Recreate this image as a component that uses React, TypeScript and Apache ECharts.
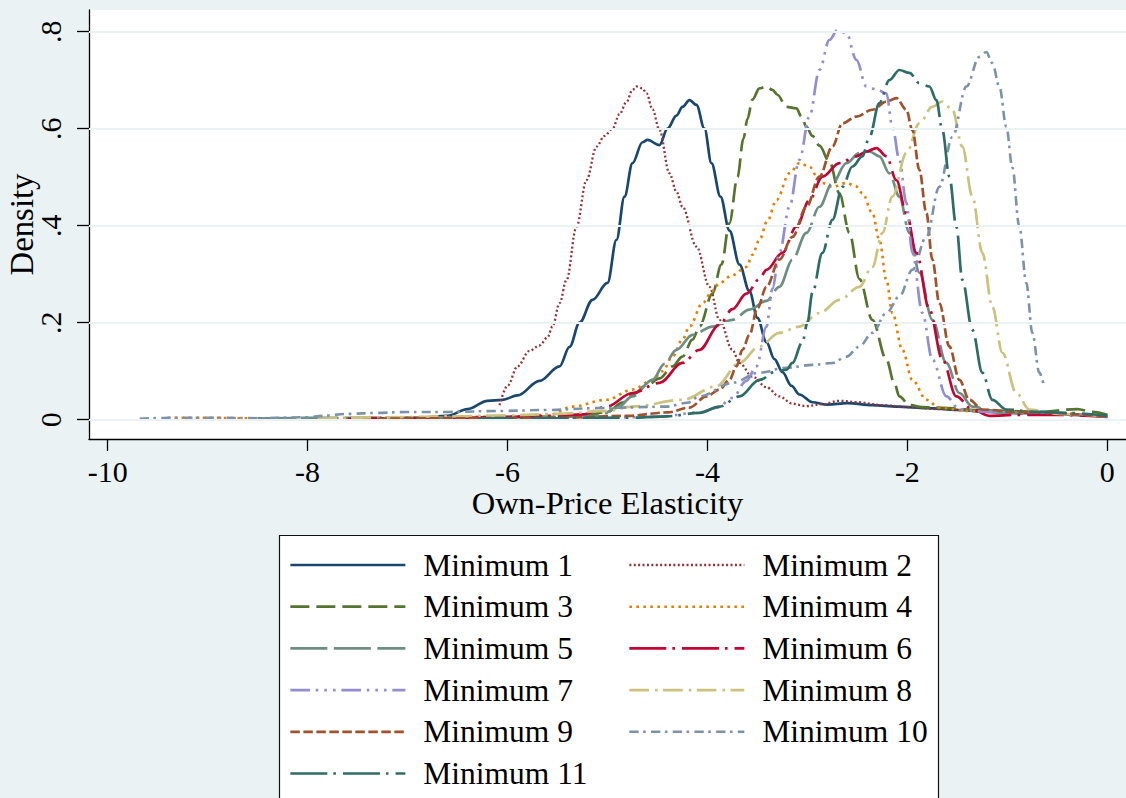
import React, { useEffect, useRef } from "react";
import * as echarts from "echarts";

// Axis ticks and visible ranges
const xTicks = [-10, -8, -6, -4, -2, 0];
const yTicks = [0, 0.2, 0.4, 0.6, 0.8];
const xRange = [-10.187, 0.187];
const yRange = [-0.0398, 0.8447];

// Kernel density estimates of the own-price elasticity, one per minimum
const minimum1: [number, number][] = [
  [-6.9, 0.002], [-6.6, 0.008], [-6.4, 0.022], [-6.2, 0.039], [-6.05, 0.041], [-5.9, 0.05],
  [-5.68, 0.08], [-5.48, 0.11], [-5.38, 0.15], [-5.28, 0.2], [-5.15, 0.247], [-5.0, 0.282],
  [-4.91, 0.371], [-4.83, 0.46], [-4.75, 0.529], [-4.65, 0.572], [-4.6, 0.577], [-4.48, 0.566],
  [-4.4, 0.6], [-4.31, 0.627], [-4.25, 0.645], [-4.18, 0.659], [-4.11, 0.649], [-4.03, 0.6],
  [-3.96, 0.529], [-3.87, 0.46], [-3.78, 0.39], [-3.68, 0.32], [-3.58, 0.265], [-3.5, 0.21],
  [-3.41, 0.16], [-3.33, 0.125], [-3.25, 0.098], [-3.16, 0.07], [-3.08, 0.052], [-2.95, 0.036],
  [-2.8, 0.031], [-2.6, 0.034], [-2.35, 0.03], [-2.1, 0.027], [-1.8, 0.024], [-1.5, 0.02],
  [-1.2, 0.016], [-0.9, 0.014], [-0.6, 0.012], [-0.3, 0.01], [0, 0.007],
];
const minimum2: [number, number][] = [
  [-6.08, 0.03], [-6.0, 0.07], [-5.9, 0.11], [-5.78, 0.142], [-5.68, 0.153], [-5.6, 0.17],
  [-5.55, 0.192], [-5.48, 0.24], [-5.41, 0.288], [-5.31, 0.398], [-5.21, 0.494], [-5.11, 0.563],
  [-5.03, 0.585], [-4.95, 0.6], [-4.88, 0.63], [-4.81, 0.655], [-4.75, 0.68], [-4.71, 0.687],
  [-4.65, 0.683], [-4.61, 0.673], [-4.55, 0.64], [-4.48, 0.597], [-4.38, 0.508], [-4.31, 0.47],
  [-4.25, 0.439], [-4.11, 0.357], [-3.98, 0.274], [-3.88, 0.206], [-3.75, 0.144], [-3.68, 0.117],
  [-3.55, 0.089], [-3.41, 0.067], [-3.28, 0.048], [-3.15, 0.033], [-3.01, 0.028], [-2.85, 0.032],
  [-2.68, 0.039], [-2.5, 0.036], [-2.25, 0.03], [-2.0, 0.026], [-1.7, 0.022], [-1.4, 0.02],
  [-1.1, 0.016], [-0.8, 0.014], [-0.5, 0.012], [-0.2, 0.009], [0, 0.007],
];
const minimum3: [number, number][] = [
  [-6.8, 0.002], [-6.2, 0.004], [-5.6, 0.006], [-5.2, 0.01], [-5.0, 0.016], [-4.85, 0.035],
  [-4.75, 0.052], [-4.6, 0.072], [-4.48, 0.085], [-4.35, 0.11], [-4.25, 0.13], [-4.15, 0.165],
  [-4.08, 0.192], [-3.95, 0.26], [-3.86, 0.32], [-3.78, 0.405], [-3.7, 0.5], [-3.64, 0.58],
  [-3.6, 0.62], [-3.55, 0.66], [-3.48, 0.683], [-3.41, 0.687], [-3.35, 0.68], [-3.3, 0.67],
  [-3.21, 0.645], [-3.11, 0.642], [-3.06, 0.625], [-3.01, 0.604], [-2.95, 0.585], [-2.88, 0.565],
  [-2.78, 0.532], [-2.68, 0.467], [-2.58, 0.385], [-2.48, 0.29], [-2.35, 0.206], [-2.21, 0.124],
  [-2.13, 0.075], [-2.08, 0.048], [-1.98, 0.03], [-1.85, 0.026], [-1.6, 0.024], [-1.3, 0.02],
  [-1.0, 0.018], [-0.7, 0.016], [-0.3, 0.022], [-0.15, 0.016], [0, 0.01],
];
const minimum4: [number, number][] = [
  [-9.4, 0.004], [-9.0, 0.004], [-8.6, 0.003], [-8.2, 0.002], [-7.8, 0.003], [-7.3, 0.004],
  [-6.8, 0.005], [-6.3, 0.006], [-5.9, 0.007], [-5.58, 0.01], [-5.35, 0.027], [-5.01, 0.041],
  [-4.75, 0.062], [-4.55, 0.082], [-4.45, 0.1], [-4.35, 0.13], [-4.25, 0.165], [-4.18, 0.192],
  [-4.05, 0.24], [-3.95, 0.265], [-3.88, 0.282], [-3.75, 0.298], [-3.61, 0.315], [-3.55, 0.34],
  [-3.48, 0.371], [-3.4, 0.41], [-3.31, 0.453], [-3.18, 0.508], [-3.08, 0.529], [-2.98, 0.522],
  [-2.9, 0.5], [-2.85, 0.488], [-2.75, 0.48], [-2.61, 0.488], [-2.52, 0.482], [-2.45, 0.467],
  [-2.35, 0.426], [-2.28, 0.371], [-2.21, 0.288], [-2.15, 0.22], [-2.05, 0.144], [-1.95, 0.082],
  [-1.81, 0.041], [-1.68, 0.025], [-1.4, 0.018], [-1.0, 0.015], [-0.6, 0.012], [-0.3, 0.01],
  [0, 0.007],
];
const minimum5: [number, number][] = [
  [-8.5, 0.003], [-7.5, 0.004], [-6.5, 0.005], [-5.5, 0.006], [-5.08, 0.008], [-4.9, 0.025],
  [-4.75, 0.048], [-4.55, 0.082], [-4.43, 0.115], [-4.31, 0.144], [-4.15, 0.175], [-3.95, 0.192],
  [-3.75, 0.206], [-3.58, 0.227], [-3.41, 0.245], [-3.28, 0.274], [-3.15, 0.33], [-3.01, 0.385],
  [-2.88, 0.439], [-2.75, 0.488], [-2.61, 0.529], [-2.48, 0.55], [-2.38, 0.553], [-2.28, 0.543],
  [-2.18, 0.508], [-2.08, 0.46], [-1.98, 0.385], [-1.88, 0.303], [-1.75, 0.206], [-1.61, 0.117],
  [-1.48, 0.055], [-1.35, 0.027], [-1.08, 0.014], [-0.7, 0.012], [-0.3, 0.01], [0, 0.007],
];
const minimum6: [number, number][] = [
  [-7.6, 0.002], [-7.0, 0.003], [-6.5, 0.004], [-6.0, 0.006], [-5.5, 0.008], [-5.25, 0.011],
  [-5.01, 0.027], [-4.75, 0.055], [-4.48, 0.076], [-4.25, 0.117], [-4.08, 0.144], [-3.88, 0.196],
  [-3.75, 0.228], [-3.61, 0.26], [-3.48, 0.29], [-3.41, 0.309], [-3.25, 0.344], [-3.11, 0.398],
  [-2.98, 0.453], [-2.85, 0.501], [-2.68, 0.529], [-2.51, 0.543], [-2.41, 0.553], [-2.31, 0.56],
  [-2.21, 0.543], [-2.11, 0.494], [-2.01, 0.426], [-1.91, 0.344], [-1.78, 0.227], [-1.65, 0.124],
  [-1.51, 0.048], [-1.35, 0.021], [-1.18, 0.008], [-0.9, 0.01], [-0.5, 0.01], [0, 0.006],
];
const minimum7: [number, number][] = [
  [-5.6, 0.002], [-5.0, 0.004], [-4.5, 0.006], [-4.08, 0.015], [-3.9, 0.025], [-3.75, 0.045],
  [-3.61, 0.08], [-3.51, 0.11], [-3.41, 0.192], [-3.35, 0.27], [-3.28, 0.344], [-3.18, 0.439],
  [-3.08, 0.536], [-2.98, 0.625], [-2.88, 0.721], [-2.78, 0.783], [-2.7, 0.803], [-2.61, 0.797],
  [-2.51, 0.742], [-2.41, 0.687], [-2.3, 0.68], [-2.21, 0.673], [-2.15, 0.604], [-2.08, 0.536],
  [-2.01, 0.447], [-1.95, 0.344], [-1.85, 0.22], [-1.75, 0.124], [-1.61, 0.048], [-1.48, 0.021],
  [-1.2, 0.016], [-0.8, 0.016], [-0.4, 0.012], [0, 0.007],
];
const minimum8: [number, number][] = [
  [-7.9, 0.002], [-7.2, 0.005], [-6.5, 0.007], [-6.0, 0.009], [-5.5, 0.012], [-5.0, 0.018],
  [-4.75, 0.027], [-4.25, 0.041], [-3.91, 0.069], [-3.68, 0.117], [-3.48, 0.151], [-3.28, 0.179],
  [-3.08, 0.192], [-2.88, 0.22], [-2.68, 0.247], [-2.48, 0.274], [-2.35, 0.315], [-2.25, 0.385],
  [-2.15, 0.46], [-2.01, 0.55], [-1.88, 0.611], [-1.75, 0.645], [-1.65, 0.656], [-1.55, 0.639],
  [-1.45, 0.563], [-1.35, 0.46], [-1.25, 0.344], [-1.15, 0.233], [-1.05, 0.138], [-0.91, 0.055],
  [-0.78, 0.021], [-0.5, 0.012], [-0.2, 0.01], [0, 0.006],
];
const minimum9: [number, number][] = [
  [-7.3, 0.002], [-6.5, 0.003], [-5.5, 0.004], [-4.8, 0.008], [-4.4, 0.015], [-4.18, 0.025],
  [-4.01, 0.048], [-3.88, 0.062], [-3.78, 0.082], [-3.71, 0.11], [-3.65, 0.144], [-3.58, 0.175],
  [-3.5, 0.23], [-3.41, 0.274], [-3.28, 0.33], [-3.15, 0.377], [-3.01, 0.439], [-2.88, 0.501],
  [-2.75, 0.563], [-2.65, 0.611], [-2.51, 0.625], [-2.35, 0.639], [-2.21, 0.656], [-2.11, 0.663],
  [-2.01, 0.639], [-1.95, 0.597], [-1.88, 0.515], [-1.81, 0.426], [-1.75, 0.33], [-1.68, 0.24],
  [-1.58, 0.151], [-1.48, 0.082], [-1.38, 0.041], [-1.25, 0.021], [-0.9, 0.016], [-0.5, 0.014],
  [-0.2, 0.01], [0, 0.006],
];
const minimum10: [number, number][] = [
  [-9.68, 0.002], [-9.3, 0.004], [-8.9, 0.004], [-8.5, 0.003], [-8.0, 0.005], [-7.85, 0.008],
  [-7.6, 0.012], [-7.3, 0.014], [-7.0, 0.016], [-6.6, 0.016], [-6.08, 0.018], [-5.6, 0.02],
  [-5.08, 0.024], [-4.41, 0.027], [-4.2, 0.035], [-4.08, 0.048], [-3.75, 0.076], [-3.48, 0.097],
  [-3.21, 0.107], [-2.95, 0.113], [-2.75, 0.117], [-2.61, 0.13], [-2.48, 0.151], [-2.35, 0.179],
  [-2.21, 0.22], [-2.08, 0.254], [-1.95, 0.309], [-1.81, 0.377], [-1.68, 0.48], [-1.55, 0.583],
  [-1.41, 0.687], [-1.28, 0.748], [-1.21, 0.758], [-1.15, 0.735], [-1.08, 0.687], [-1.01, 0.604],
  [-0.95, 0.52], [-0.88, 0.398], [-0.81, 0.282], [-0.75, 0.179], [-0.68, 0.097], [-0.63, 0.066],
];
const minimum11: [number, number][] = [
  [-6.3, 0.002], [-5.5, 0.003], [-4.8, 0.004], [-4.41, 0.007], [-4.08, 0.014], [-3.88, 0.027],
  [-3.68, 0.048], [-3.48, 0.082], [-3.31, 0.1], [-3.21, 0.103], [-3.15, 0.117], [-3.05, 0.16],
  [-3.0, 0.2], [-2.95, 0.262], [-2.85, 0.344], [-2.75, 0.412], [-2.65, 0.48], [-2.55, 0.522],
  [-2.45, 0.543], [-2.38, 0.583], [-2.28, 0.653], [-2.18, 0.7], [-2.08, 0.721], [-1.98, 0.715],
  [-1.88, 0.694], [-1.78, 0.687], [-1.71, 0.659], [-1.65, 0.597], [-1.58, 0.501], [-1.51, 0.398],
  [-1.45, 0.288], [-1.35, 0.185], [-1.25, 0.097], [-1.15, 0.041], [-1.01, 0.021], [-0.7, 0.016],
  [-0.4, 0.014], [0, 0.008],
];

const curves = [
  minimum1, minimum2, minimum3, minimum4, minimum5, minimum6,
  minimum7, minimum8, minimum9, minimum10, minimum11,
];
const seriesNames = [
  "Minimum 1", "Minimum 2", "Minimum 3", "Minimum 4", "Minimum 5", "Minimum 6",
  "Minimum 7", "Minimum 8", "Minimum 9", "Minimum 10", "Minimum 11",
];

// Stata s2color palette and line patterns
const seriesColors = [
  "#1A476F", "#90353B", "#55752F", "#E37E00", "#6E8E84", "#C10534",
  "#938DD2", "#CAC27E", "#A0522D", "#7B92A8", "#2D6D66",
];
const linePatterns: (string | number[])[] = [
  "solid",
  [2, 2.4],
  [19, 7],
  [2.6, 4.4],
  [37, 6.5],
  [37, 6, 2.6, 7],
  [19.7, 5.7, 2.6, 6, 2.6, 6.1, 2.6, 5.7],
  [19.7, 6, 2.6, 5.4],
  [9.5, 3.5],
  [9.3, 4.5, 2.6, 5.3],
  [37, 6, 2.6, 7],
];
const lineWidths = [2.7, 2.3, 2.7, 2.6, 2.7, 2.7, 2.7, 2.7, 2.7, 2.6, 2.7];

const leftColumn = [0, 2, 4, 6, 8, 10];
const rightColumn = [1, 3, 5, 7, 9];

const FONT = "'Liberation Serif', 'Times New Roman', serif";
const BG = "#EAF2F3";

function legendFor(indices: number[], left: number) {
  return {
    orient: "vertical",
    left,
    top: 549,
    height: 300,
    padding: 0,
    itemWidth: 115,
    itemHeight: 14,
    itemGap: 9.7,
    selectedMode: false,
    textStyle: {
      fontFamily: FONT,
      fontSize: 31.5,
      color: "#000",
      lineHeight: 30,
      padding: [0, 0, 0, 13],
    },
    data: indices.map((i) => ({
      name: seriesNames[i],
      itemStyle: { color: "rgba(0,0,0,0)", borderWidth: 0, opacity: 0 },
      lineStyle: {
        color: seriesColors[i],
        width: lineWidths[i],
        type: linePatterns[i],
      },
    })),
  };
}

export default function App() {
  const ref = useRef<HTMLDivElement>(null);

  useEffect(() => {
    if (!ref.current) return;
    const chart = echarts.init(ref.current, undefined, { renderer: "svg" });

    const axisLineStyle = { color: "#000", width: 1.3 };

    chart.setOption({
      animation: false,
      backgroundColor: BG,
      grid: {
        left: 89,
        right: 0,
        top: 10,
        bottom: 359,
        outerBoundsMode: "none",
        containLabel: false,
        show: true,
        backgroundColor: "#fff",
        borderWidth: 0,
      },
      graphic: [
        {
          type: "rect",
          z: 0,
          shape: { x: 279.5, y: 535.5, width: 659, height: 300 },
          style: { fill: "#fff", stroke: "#111", lineWidth: 1.2 },
        },
      ],
      legend: [legendFor(leftColumn, 289), legendFor(rightColumn, 628)],
      xAxis: {
        type: "value",
        min: xRange[0],
        max: xRange[1],
        axisLine: { show: true, onZero: false, lineStyle: axisLineStyle },
        axisTick: {
          show: true,
          length: 12,
          customValues: xTicks,
          lineStyle: axisLineStyle,
        },
        axisLabel: {
          customValues: xTicks,
          margin: 17,
          fontFamily: FONT,
          fontSize: 30,
          color: "#000",
          lineHeight: 30,
          formatter: (v: number) => String(v),
        },
        splitLine: { show: false },
        name: "Own-Price Elasticity",
        nameLocation: "middle",
        nameGap: 48,
        nameMoveOverlap: false,
        nameTextStyle: { fontFamily: FONT, fontSize: 32.5, color: "#000", lineHeight: 32 },
      },
      yAxis: {
        type: "value",
        min: yRange[0],
        max: yRange[1],
        axisLine: { show: true, onZero: false, lineStyle: axisLineStyle },
        axisTick: {
          show: true,
          length: 12,
          customValues: yTicks,
          lineStyle: axisLineStyle,
        },
        axisLabel: {
          customValues: yTicks,
          rotate: 90,
          margin: 24,
          fontFamily: FONT,
          fontSize: 30,
          color: "#000",
          lineHeight: 30,
          formatter: (v: number) => (v === 0 ? "0" : String(v).replace(/^0/, "")),
        },
        splitLine: { show: false },
        name: "Density",
        nameLocation: "middle",
        nameGap: 51,
        nameMoveOverlap: false,
        nameTextStyle: { fontFamily: FONT, fontSize: 32.8, color: "#000", lineHeight: 32 },
      },
      series: [
        {
          type: "line",
          name: "gridlines",
          data: [],
          silent: true,
          z: 1,
          markLine: {
            silent: true,
            symbol: ["none", "none"],
            label: { show: false },
            emphasis: { disabled: true },
            lineStyle: { color: BG, width: 2, type: "solid" },
            data: yTicks.map((v) => ({ yAxis: v })),
          },
        },
        ...curves.map((d, i) => ({
          type: "line",
          name: seriesNames[i],
          data: d,
          symbol: "none",
          smooth: 0.35,
          smoothMonotone: "x",
          silent: true,
          z: 2,
          itemStyle: { color: seriesColors[i] },
          lineStyle: {
            color: seriesColors[i],
            width: lineWidths[i],
            type: linePatterns[i],
            cap: "butt",
          },
        })),
      ],
    });

    return () => chart.dispose();
  }, []);

  return (
    <div
      ref={ref}
      style={{ position: "absolute", left: 0, top: 0, width: 1126, height: 798 }}
    />
  );
}
